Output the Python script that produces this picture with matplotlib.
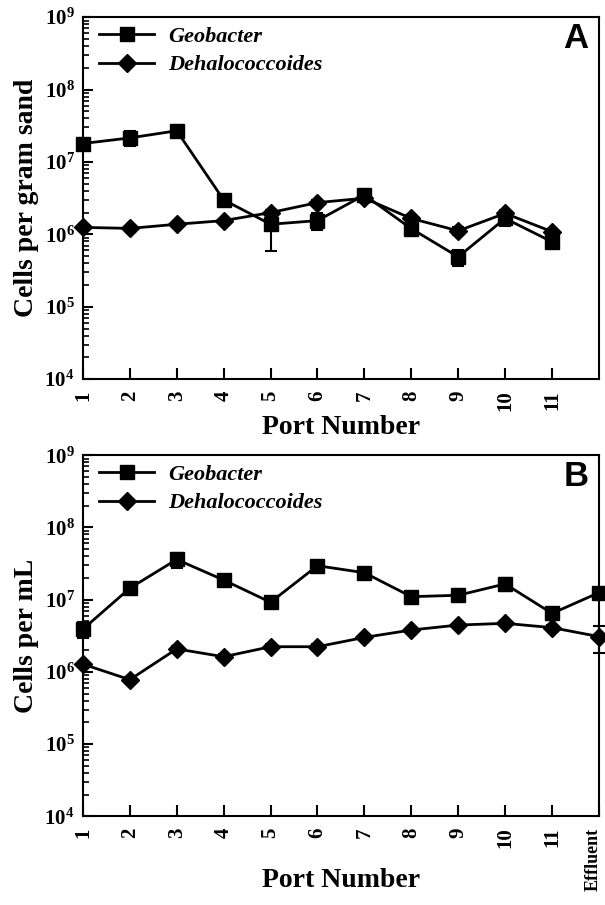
import numpy as np
import matplotlib
matplotlib.use("Agg")
import matplotlib.pyplot as plt
import matplotlib.transforms as mtransforms
from matplotlib.ticker import LogLocator, NullFormatter, FixedLocator

############################################
# DATA
############################################

ports_a = [1, 2, 3, 4, 5, 6, 7, 8, 9, 10, 11]
ports_b = [1, 2, 3, 4, 5, 6, 7, 8, 9, 10, 11, 12]
labels_b = ["1", "2", "3", "4", "5", "6", "7", "8", "9", "10", "11", "Effluent"]

# panel A: cells per gram sand
geo_a = [1.8e7, 2.15e7, 2.7e7, 3.0e6, 1.38e6, 1.55e6, 3.5e6, 1.2e6, 4.9e5, 1.66e6, 7.9e5]
geo_a_err = [2.0e6, 5.0e6, 2.5e6, 5.5e5, 7.9e5, 4.0e5, 5.0e5, 1.5e5, 1.2e5, 3.5e5, 1.0e5]
dhc_a = [1.25e6, 1.21e6, 1.38e6, 1.55e6, 2.0e6, 2.75e6, 3.16e6, 1.66e6, 1.12e6, 1.95e6, 1.09e6]
dhc_a_err = [1.0e5, 1.0e5, 1.0e5, 1.0e5, 2.0e5, 2.0e5, 3.0e5, 2.0e5, 1.5e5, 2.0e5, 1.0e5]

# panel B: cells per mL
geo_b = [3.9e6, 1.44e7, 3.6e7, 1.87e7, 9.2e6, 2.95e7, 2.36e7, 1.1e7, 1.15e7, 1.65e7, 6.45e6, 1.25e7]
geo_b_err = [1.0e6, 2.0e6, 8.5e6, 2.0e6, 1.5e6, 3.0e6, 4.0e6, 1.5e6, 1.0e6, 3.5e6, 1.3e6, 1.5e6]
dhc_b = [1.28e6, 7.8e5, 2.08e6, 1.62e6, 2.23e6, 2.23e6, 3.0e6, 3.8e6, 4.45e6, 4.7e6, 4.1e6, 3.08e6]
dhc_b_err = [1.0e5, 8.0e4, 2.0e5, 1.5e5, 2.0e5, 2.0e5, 2.5e5, 3.0e5, 3.0e5, 3.0e5, 3.0e5, 1.25e6]

############################################
# STYLE
############################################

plt.rcParams["font.family"] = ["Liberation Serif", "DejaVu Serif"]
plt.rcParams["font.weight"] = "bold"
plt.rcParams["mathtext.fontset"] = "custom"
plt.rcParams["mathtext.rm"] = "Liberation Serif:bold"
plt.rcParams["mathtext.it"] = "Liberation Serif:bold:italic"
plt.rcParams["mathtext.bf"] = "Liberation Serif:bold"


def draw_panel(ax, ports, geo, geo_err, dhc, dhc_err, ylabel, letter, ticklabels):
    g = ax.errorbar(ports, geo, yerr=geo_err, color="black", lw=2.0, marker="s", ms=10.5,
                    capsize=4.5, elinewidth=1.5, capthick=1.5,
                    clip_on=False, zorder=3)
    d = ax.errorbar(ports, dhc, yerr=dhc_err, color="black", lw=2.0, marker="D", ms=9,
                    capsize=4.5, elinewidth=1.5, capthick=1.5,
                    clip_on=False, zorder=3)

    ax.set_yscale("log")
    ax.set_ylim(1e4, 1e9)
    ax.set_xlim(1, 12)

    ax.yaxis.set_major_locator(LogLocator(base=10, numticks=10))
    ax.yaxis.set_minor_locator(LogLocator(base=10, subs=np.arange(2, 10), numticks=20))
    ax.yaxis.set_minor_formatter(NullFormatter())

    ax.xaxis.set_major_locator(FixedLocator(list(range(1, len(ticklabels) + 1))))
    ax.set_xticklabels(ticklabels, rotation=90)

    ax.tick_params(axis="both", which="both", direction="in", top=False, right=False)
    ax.tick_params(axis="x", which="major", length=8, width=1.5, pad=8, labelsize=15)
    ax.tick_params(axis="y", which="major", length=7, width=1.5, pad=6, labelsize=15)
    ax.tick_params(axis="y", which="minor", length=4, width=1.2)

    for s in ax.spines.values():
        s.set_linewidth(1.5)

    ax.set_ylabel(ylabel, fontsize=20, fontweight="bold")
    ax.set_xlabel("Port Number", fontsize=20, fontweight="bold")
    ax.yaxis.set_label_coords(-0.085, 0.5)

    ax.text(0.955, 0.94, letter, transform=ax.transAxes, fontsize=25, fontweight="bold",
            family="Liberation Sans", ha="center", va="center")

    ax.legend([g[0], d[0]], ["Geobacter", "Dehalococcoides"],
              loc="upper left", bbox_to_anchor=(0.003, 1.014), frameon=False,
              numpoints=1, handlelength=2.5, handletextpad=0.6,
              labelspacing=0.35, borderpad=0.15,
              prop={"family": "Liberation Serif", "weight": "bold",
                    "style": "italic", "size": 16})


fig = plt.figure(figsize=(6.05, 9.05), dpi=100)

ax_a = fig.add_axes([0.137, 0.581, 0.853, 0.400])
ax_b = fig.add_axes([0.137, 0.098, 0.853, 0.399])

draw_panel(ax_a, ports_a, geo_a, geo_a_err, dhc_a, dhc_a_err,
           "Cells per gram sand", "A", labels_b[:11])
ax_a.xaxis.set_label_coords(0.5, -0.1)

draw_panel(ax_b, ports_b, geo_b, geo_b_err, dhc_b, dhc_b_err,
           "Cells per mL", "B", labels_b)
ax_b.xaxis.set_label_coords(0.5, -0.144)

# keep the last (long) tick label inside the canvas
eff = ax_b.get_xticklabels()[-1]
eff.set_fontsize(13)
eff.set_transform(eff.get_transform() + mtransforms.ScaledTranslation(-6 / 100, 0, fig.dpi_scale_trans))

fig.savefig("out.png", dpi=100)
